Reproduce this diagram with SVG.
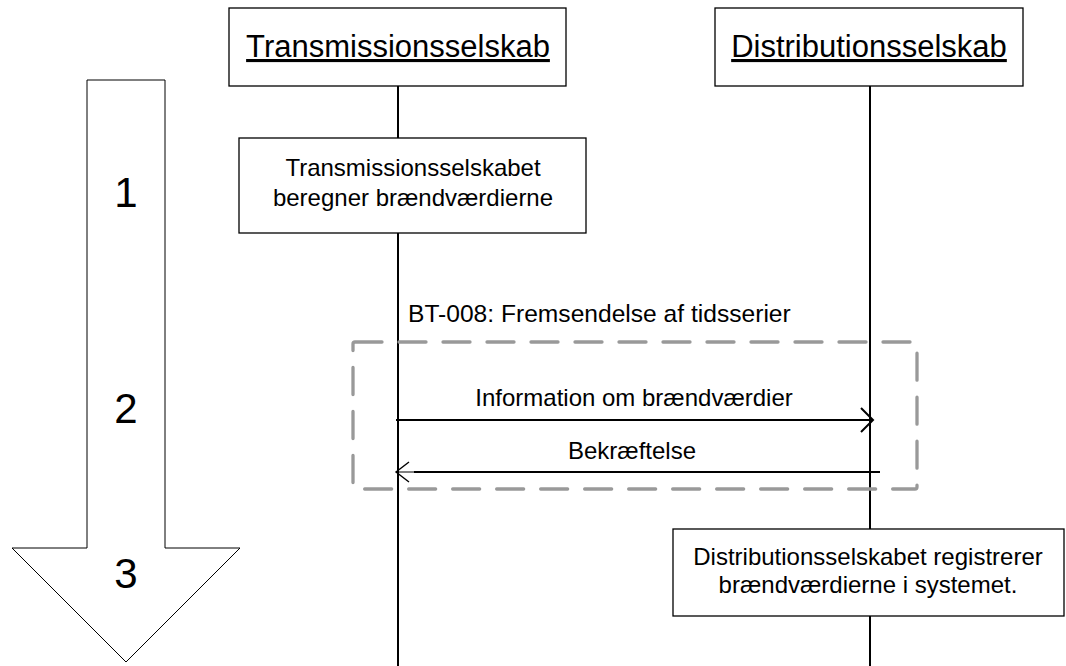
<svg xmlns="http://www.w3.org/2000/svg" width="1066" height="666" viewBox="0 0 1066 666">
<style>
.box{fill:#fff;stroke:#000;stroke-width:1.3}
.life{stroke:#000;stroke-width:2;fill:none}
.msg{stroke:#000;stroke-width:2;fill:none}
.head{stroke:#000;stroke-width:2;fill:none}
.t{font-family:"Liberation Sans",Arial,sans-serif;fill:#000;text-anchor:middle}
.h{font-size:31px;text-decoration:underline}
.b{font-size:24px}
.n{font-size:42px}
</style>
<rect width="1066" height="666" fill="#fff"/>
<g id="progress">
<path d="M87,80 H165 V548 H240 L126,662 L12,548 H87 Z" fill="#fff" stroke="#000" stroke-width="1"/>
<text class="t n" x="126" y="207">1</text>
<text class="t n" x="126" y="423">2</text>
<text class="t n" x="126" y="588">3</text>
</g>
<g id="lifelines">
<line class="life" x1="398" y1="86" x2="398" y2="666"/>
<line class="life" x1="870" y1="86" x2="870" y2="666"/>
</g>
<g id="transmission">
<rect class="box" x="229" y="8" width="337" height="78"/>
<text class="t h" x="398" y="57">Transmissionsselskab</text>
</g>
<g id="distribution">
<rect class="box" x="715" y="8" width="308" height="78"/>
<text class="t h" x="869" y="57">Distributionsselskab</text>
</g>
<g id="step1">
<rect class="box" x="239" y="138" width="347" height="95"/>
<text class="t b" x="413" y="176">Transmissionsselskabet</text>
<text class="t b" x="413" y="206">beregner brændværdierne</text>
</g>
<g id="group-bt008">
<text class="t" x="408" y="322" style="text-anchor:start;font-size:24.6px">BT-008: Fremsendelse af tidsserier</text>
<rect x="353" y="342" width="564" height="147" rx="2" fill="none" stroke="#999" stroke-width="3.3" stroke-linecap="round" stroke-dasharray="27,17"/>
</g>
<g id="connectors">
<g id="msg-information">
<line class="msg" x1="396" y1="420" x2="872" y2="420"/>
<path class="head" d="M861,408 L873,420 L861,432"/>
<text class="t b" x="634" y="406">Information om brændværdier</text>
</g>
<g id="msg-bekraeftelse">
<line class="msg" x1="880" y1="472" x2="414" y2="472"/>
<line x1="414" y1="472" x2="396" y2="472" stroke="#000" stroke-width="1"/>
<path d="M409,462 L396,472 L409,482" fill="none" stroke="#000" stroke-width="1.4"/>
<text class="t b" x="632" y="459">Bekræftelse</text>
</g>
</g>
<g id="step3">
<rect class="box" x="673" y="529" width="391" height="87"/>
<text class="t b" x="868" y="565">Distributionsselskabet registrerer</text>
<text class="t b" x="868" y="593">brændværdierne i systemet.</text>
</g>
</svg>
